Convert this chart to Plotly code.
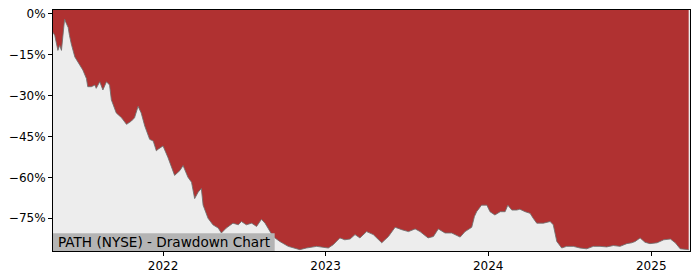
import plotly.graph_objects as go

# Drawdown series (dates, drawdown in %)
dates = [
    "2021-04-29", "2021-05-03", "2021-05-10", "2021-05-14", "2021-05-18", "2021-05-22",
    "2021-05-25", "2021-05-28", "2021-06-02", "2021-06-05", "2021-06-09", "2021-06-17",
    "2021-06-28", "2021-07-05", "2021-07-13", "2021-07-16", "2021-07-24", "2021-08-01",
    "2021-08-04", "2021-08-12", "2021-08-19", "2021-08-27", "2021-09-03", "2021-09-07",
    "2021-09-18", "2021-09-30", "2021-10-11", "2021-10-22", "2021-10-29", "2021-11-06",
    "2021-11-13", "2021-11-21", "2021-12-02", "2021-12-10", "2021-12-17", "2021-12-21",
    "2022-01-01", "2022-01-12", "2022-01-27", "2022-02-08", "2022-02-15", "2022-02-26",
    "2022-03-06", "2022-03-13", "2022-03-21", "2022-03-28", "2022-04-01", "2022-04-12",
    "2022-04-23", "2022-05-05", "2022-05-12", "2022-05-23", "2022-06-07", "2022-06-19",
    "2022-06-26", "2022-07-07", "2022-07-19", "2022-07-30", "2022-08-10", "2022-08-18",
    "2022-09-05", "2022-09-20", "2022-10-09", "2022-11-04", "2022-11-19", "2022-12-12",
    "2023-01-07", "2023-01-18", "2023-02-02", "2023-02-13", "2023-02-25", "2023-03-08",
    "2023-03-19", "2023-04-03", "2023-04-18", "2023-05-07", "2023-05-22", "2023-06-06",
    "2023-06-21", "2023-07-06", "2023-07-21", "2023-08-01", "2023-08-19", "2023-08-31",
    "2023-09-11", "2023-09-26", "2023-10-11", "2023-10-30", "2023-11-10", "2023-11-25",
    "2023-12-01", "2023-12-06", "2023-12-17", "2023-12-29", "2024-01-05", "2024-01-16",
    "2024-01-28", "2024-02-08", "2024-02-14", "2024-02-23", "2024-03-05", "2024-03-12",
    "2024-03-24", "2024-04-04", "2024-04-11", "2024-04-19", "2024-05-04", "2024-05-19",
    "2024-05-26", "2024-06-03", "2024-06-14", "2024-06-25", "2024-07-10", "2024-07-25",
    "2024-08-09", "2024-08-24", "2024-09-08", "2024-09-23", "2024-10-08", "2024-10-23",
    "2024-11-07", "2024-11-18", "2024-11-26", "2024-12-07", "2024-12-18", "2024-12-29",
    "2025-01-14", "2025-01-29", "2025-02-13", "2025-02-24", "2025-03-07", "2025-03-18",
    "2025-03-26",
]
drawdown = [
    -6.9, -8.0, -13.5, -11.6, -13.5, -6.9,
    -2.1, -3.3, -5.1, -8.0, -11.1, -15.9,
    -18.9, -20.7, -23.8, -26.8, -26.8, -26.2,
    -27.4, -25.0, -28.0, -25.0, -26.2, -31.6,
    -36.4, -38.2, -40.6, -39.4, -38.2, -34.0,
    -36.4, -41.2, -46.1, -46.7, -50.3, -49.7,
    -48.5, -52.7, -59.3, -57.5, -55.7, -60.0,
    -61.8, -67.8, -65.4, -64.1, -70.2, -75.0,
    -77.4, -78.6, -80.4, -78.6, -76.8, -77.4,
    -76.2, -77.4, -76.8, -78.0, -75.4, -76.8,
    -81.7, -83.5, -85.3, -86.5, -85.9, -85.3,
    -85.9, -84.7, -82.2, -82.9, -82.6, -81.0,
    -82.2, -79.9, -81.0, -84.0, -81.7, -78.3,
    -79.2, -79.9, -78.9, -79.9, -82.2, -81.7,
    -78.9, -80.4, -80.4, -81.9, -79.9, -78.3,
    -74.4, -72.6, -70.2, -70.2, -72.6, -73.8,
    -72.6, -72.6, -70.2, -72.0, -72.0, -71.7,
    -72.6, -73.2, -75.0, -76.8, -76.8, -76.2,
    -77.4, -83.5, -85.9, -85.3, -85.3, -85.9,
    -86.2, -85.3, -85.3, -85.5, -85.0, -85.3,
    -84.3, -84.0, -83.5, -82.2, -83.8, -84.3,
    -84.0, -82.9, -82.6, -84.0, -86.2, -86.5,
    -86.5,
]

y_tick_vals = [0, -15, -30, -45, -60, -75]
y_tick_text = ["0%", "\u221215%", "\u221230%", "\u221245%", "\u221260%", "\u221275%"]
x_tick_vals = ["2022-01-01", "2023-01-01", "2024-01-01", "2025-01-01"]
x_tick_text = ["2022", "2023", "2024", "2025"]
title_text = "PATH (NYSE) - Drawdown Chart"

TOP = 5
RED = "#b03131"
GREY_BG = "#ededed"

fig = go.Figure()
fig.add_trace(go.Scatter(
    x=[dates[0], dates[-1]], y=[TOP, TOP], mode="lines",
    line=dict(width=0), hoverinfo="skip", showlegend=False,
))
fig.add_trace(go.Scatter(
    x=dates, y=drawdown, mode="lines", fill="tonexty", fillcolor=RED,
    line=dict(color="rgba(110,110,110,0.85)", width=1), showlegend=False,
))

fig.add_shape(type="rect", xref="paper", yref="paper", x0=0, x1=0.348, y0=0, y1=0.074,
              fillcolor="#b4b4b4", line=dict(width=0), layer="above")
fig.add_annotation(text=title_text, xref="paper", yref="paper", x=0.004, y=0.037,
                   xanchor="left", yanchor="middle", showarrow=False,
                   font=dict(family="DejaVu Sans", size=13.6, color="#000000"))

fig.update_layout(
    width=700, height=280,
    margin=dict(l=53, r=10, t=7, b=29),
    paper_bgcolor="white", plot_bgcolor=GREY_BG,
    font=dict(family="DejaVu Sans", size=12, color="#000000"),
    xaxis=dict(
        range=["2021-04-29", "2025-03-29"], tickvals=x_tick_vals, ticktext=x_tick_text,
        showgrid=False, zeroline=False, showline=True, mirror=True,
        linecolor="black", linewidth=1, ticks="outside", ticklen=4, tickcolor="black",
    ),
    yaxis=dict(
        range=[-87.0, 1.3], tickvals=y_tick_vals, ticktext=y_tick_text,
        showgrid=False, zeroline=False, showline=True, mirror=True,
        linecolor="black", linewidth=1, ticks="outside", ticklen=4, tickcolor="black",
    ),
)

fig.write_html("out.html")
